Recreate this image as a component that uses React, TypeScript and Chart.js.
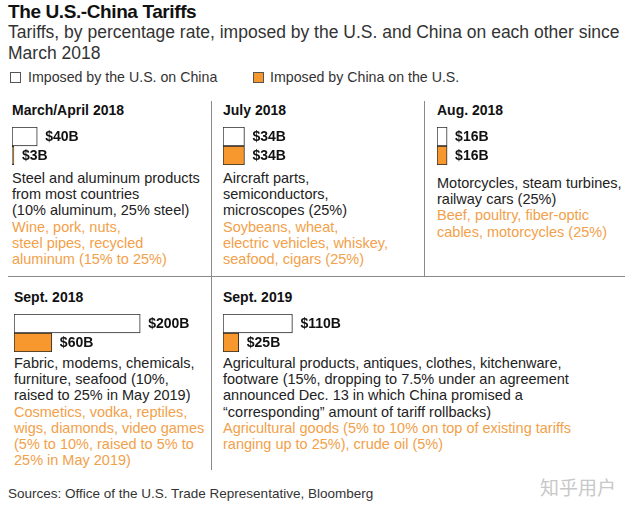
import React, { useEffect, useRef } from "react";
import { Chart, registerables } from "chart.js";

Chart.register(...registerables);

const periods = ["March/April 2018", "July 2018", "Aug. 2018", "Sept. 2018", "Sept. 2019"];
const usValues = [40, 34, 16, 200, 110];
const chinaValues = [3, 34, 16, 60, 25];
const seriesNames = ["Imposed by the U.S. on China", "Imposed by China on the U.S."];

const usGoods = [
  ["Steel and aluminum products", "from most countries", "(10% aluminum, 25% steel)"],
  ["Aircraft parts,", "semiconductors,", "microscopes (25%)"],
  ["Motorcycles, steam turbines,", "railway cars (25%)"],
  ["Fabric, modems, chemicals,", "furniture, seafood (10%,", "raised to 25% in May 2019)"],
  [
    "Agricultural products, antiques, clothes, kitchenware,",
    "footware (15%, dropping to 7.5% under an agreement",
    "announced Dec. 13 in which China promised a",
    "\u201ccorresponding\u201d amount of tariff rollbacks)",
  ],
];
const chinaGoods = [
  ["Wine, pork, nuts,", "steel pipes, recycled", "aluminum (15% to 25%)"],
  ["Soybeans, wheat,", "electric vehicles, whiskey,", "seafood, cigars (25%)"],
  ["Beef, poultry, fiber-optic", "cables, motorcycles (25%)"],
  ["Cosmetics, vodka, reptiles,", "wigs, diamonds, video games", "(5% to 10%, raised to 5% to", "25% in May 2019)"],
  ["Agricultural goods (5% to 10% on top of existing tariffs", "ranging up to 25%), crude oil (5%)"],
];

const FONT = '"Liberation Sans", Arial, Helvetica, sans-serif';
const US_FILL = "#ffffff";
const CN_FILL = "#f7982f";
const CN_TEXT = "#f2a14a";
const X_MAX = 317;

// layout of each panel: [left, headerTop, barTop, bodyTop]
const panelLayout = [
  [12, 102, 127, 170],
  [223, 102, 127, 170],
  [437, 102, 127, 175],
  [14, 289, 314, 355],
  [223, 289, 314, 355],
];

const valueLabelPlugin = {
  id: "valueLabels",
  afterDatasetsDraw(chart: any) {
    const ctx = chart.ctx;
    const meta = chart.getDatasetMeta(0);
    const data = chart.data.datasets[0].data;
    ctx.save();
    ctx.font = `bold 14px ${FONT}`;
    ctx.fillStyle = "#111";
    ctx.textBaseline = "middle";
    meta.data.forEach((bar: any, i: number) => {
      ctx.fillText(`$${data[i]}B`, bar.x + 8, bar.y + 1);
    });
    ctx.restore();
  },
};

function BarPair({ us, cn }: { us: number; cn: number }) {
  const ref = useRef<HTMLCanvasElement | null>(null);
  useEffect(() => {
    if (!ref.current) return;
    const chart = new Chart(ref.current, {
      type: "bar",
      data: {
        labels: ["U.S.", "China"],
        datasets: [
          {
            data: [us, cn],
            backgroundColor: [US_FILL, CN_FILL],
            borderColor: "#2a2a2a",
            borderWidth: 1,
            borderSkipped: false,
            barPercentage: 1,
            categoryPercentage: 1,
          },
        ],
      },
      options: {
        indexAxis: "y",
        animation: false,
        responsive: false,
        maintainAspectRatio: false,
        devicePixelRatio: 1,
        layout: { padding: 0 },
        plugins: { legend: { display: false }, tooltip: { enabled: false } },
        scales: {
          x: { type: "linear", min: 0, max: X_MAX, display: false },
          y: { type: "category", display: false },
        },
      },
      plugins: [valueLabelPlugin],
    } as any);
    return () => chart.destroy();
  }, [us, cn]);
  return <canvas ref={ref} width={200} height={38} style={{ display: "block" }} />;
}

const abs = (left: number, top: number, extra: React.CSSProperties = {}): React.CSSProperties => ({
  position: "absolute",
  left,
  top,
  ...extra,
});

export default function App() {
  return (
    <div
      style={{
        position: "absolute",
        left: 0,
        top: 0,
        width: 636,
        height: 508,
        background: "#fff",
        fontFamily: FONT,
        color: "#222",
        overflow: "hidden",
      }}
    >
      <div style={abs(8, 1, { fontSize: 19, fontWeight: "bold", letterSpacing: -0.4, color: "#111", whiteSpace: "nowrap" })}>
        The U.S.-China Tariffs
      </div>
      <div style={abs(8, 22, { fontSize: 17.5, lineHeight: "21px", color: "#333", whiteSpace: "nowrap" })}>
        Tariffs, by percentage rate, imposed by the U.S. and China on each other since
        <br />
        March 2018
      </div>
      {/* legend */}
      <div style={abs(10, 72, { width: 9, height: 9, border: "1px solid #555", background: US_FILL })} />
      <div style={abs(28, 69, { fontSize: 14.2, lineHeight: "16px", color: "#333", whiteSpace: "nowrap" })}>
        {seriesNames[0]}
      </div>
      <div style={abs(253, 72, { width: 9, height: 9, border: "1px solid #555", background: CN_FILL })} />
      <div style={abs(270, 69, { fontSize: 14.2, lineHeight: "16px", color: "#333", whiteSpace: "nowrap" })}>
        {seriesNames[1]}
      </div>

      {/* dividers */}
      <div style={abs(8, 276, { width: 617, height: 1, background: "#8a8a8a" })} />
      <div style={abs(211, 101, { width: 1, height: 175, background: "#8a8a8a" })} />
      <div style={abs(424, 101, { width: 1, height: 175, background: "#8a8a8a" })} />
      <div style={abs(211, 277, { width: 1, height: 193, background: "#8a8a8a" })} />

      {periods.map((p, i) => {
        const [left, headTop, barTop, bodyTop] = panelLayout[i];
        return (
          <React.Fragment key={p}>
            <div style={abs(left, headTop, { fontSize: 14, fontWeight: "bold", lineHeight: "16px", color: "#111", whiteSpace: "nowrap" })}>
              {p}
            </div>
            <div style={abs(left, barTop)}>
              <BarPair us={usValues[i]} cn={chinaValues[i]} />
            </div>
            <div style={abs(left, bodyTop, { fontSize: 14.5, lineHeight: "16.2px", whiteSpace: "nowrap" })}>
              {usGoods[i].map((l, k) => (
                <div key={"u" + k} style={{ color: "#222" }}>{l}</div>
              ))}
              {chinaGoods[i].map((l, k) => (
                <div key={"c" + k} style={{ color: CN_TEXT }}>{l}</div>
              ))}
            </div>
          </React.Fragment>
        );
      })}

      <div style={abs(8, 486, { fontSize: 13.5, lineHeight: "16px", color: "#333", whiteSpace: "nowrap" })}>
        Sources: Office of the U.S. Trade Representative, Bloomberg
      </div>
      <div style={abs(540, 476, { fontSize: 19, lineHeight: "22px", color: "#c8c8c8", fontFamily: '"Noto Sans CJK SC", sans-serif', whiteSpace: "nowrap" })}>
        知乎用户
      </div>
    </div>
  );
}
